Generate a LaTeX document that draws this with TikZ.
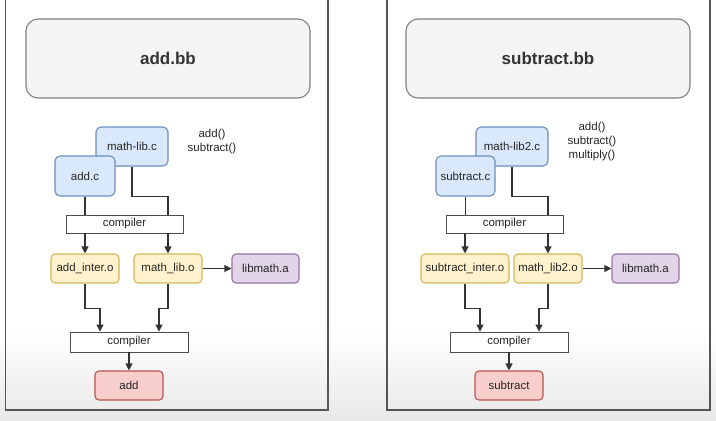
\documentclass[tikz,border=0pt]{standalone}
\usepackage{fontspec}
\setmainfont{Liberation Sans}
\usetikzlibrary{arrows.meta}
\definecolor{srcfill}{HTML}{DAE8FC}
\definecolor{srcline}{HTML}{6C8EBF}
\definecolor{objfill}{HTML}{FFF2CC}
\definecolor{objline}{HTML}{D6B656}
\definecolor{libfill}{HTML}{E1D5E7}
\definecolor{libline}{HTML}{9673A6}
\definecolor{outfill}{HTML}{F8CECC}
\definecolor{outline}{HTML}{B85450}
\definecolor{titlefill}{HTML}{F4F4F4}
\definecolor{frameline}{HTML}{555555}
\definecolor{wire}{HTML}{333333}
\tikzset{
  titlebox/.style={draw=gray,fill=titlefill,rounded corners=12pt,minimum width=284,minimum height=79,
    font=\fontsize{17}{20}\selectfont\bfseries,text=black!80},
  srcbox/.style={draw=srcline,fill=srcfill,rounded corners=5pt,minimum width=72,minimum height=39,inner sep=0pt},
  objbox/.style={draw=objline,fill=objfill,rounded corners=4pt,minimum width=68,minimum height=29,inner sep=0pt},
  libbox/.style={draw=libline,fill=libfill,rounded corners=4pt,minimum width=67,minimum height=29,inner sep=0pt},
  outbox/.style={draw=outline,fill=outfill,rounded corners=4pt,minimum width=68,minimum height=29,inner sep=0pt},
  compbox/.style={draw=black!70,line width=0.9pt,fill=white,minimum width=117,minimum height=18,inner sep=0pt},
  funcs/.style={align=center,font=\fontsize{11.5}{14.5}\selectfont,text=black!85},
  arr/.style={-{Triangle[length=7pt,width=7pt]}},
}
\begin{document}
\begin{tikzpicture}[x=1pt,y=-1pt,font=\fontsize{11.5}{13}\selectfont,text=black!85,line width=1.1pt]
\useasboundingbox (0,0) rectangle (716,421);
\fill[white] (0,0) rectangle (716,421);
\shade[top color=white,bottom color=black!9] (0,330) rectangle (716,421);

% panels
\draw[frameline,line width=1.2pt] (5.5,0) -- (5.5,410) -- (328,410) -- (328,0);
\draw[frameline,line width=1.2pt] (387,0) -- (387,410) -- (710,410) -- (710,0);

% add.bb
\node[titlebox] (addbb) at (168,58.5) {add.bb};
\node[srcbox] (mathlibc) at (132,146.5) {math-lib.c};
\node[srcbox,minimum width=60,minimum height=40] (addc) at (85,176) {add.c};
\node[funcs] (addfuncs) at (212,141.5) {add()\\subtract()};
\node[compbox] (addcomp) at (124.5,224) {compiler};
\node[objbox] (addinter) at (85,268.5) {add\_inter.o};
\node[objbox] (mathlibo) at (168,268.5) {math\_lib.o};
\node[libbox] (addlib) at (265.5,268.5) {libmath.a};
\node[compbox,minimum width=118,minimum height=20] (addcomptwo) at (129,342) {compiler};
\node[outbox] (addout) at (129,385.5) {add};

\draw[wire] (addc.south) -- (addcomp.north -| addc);
\draw[wire] (mathlibc.south) -- (mathlibc.south |- addc.south) -| (addcomp.north -| mathlibo);
\draw[wire,arr] (addcomp.south -| addinter) -- (addinter.north);
\draw[wire,arr] (addcomp.south -| mathlibo) -- (mathlibo.north);
\draw[wire,arr] (mathlibo.east) -- (addlib.west);
\draw[wire,arr] (addinter.south) -- ++(0,25) -| ([xshift=-29pt]addcomptwo.north);
\draw[wire,arr] (mathlibo.south) -- ++(0,25) -| ([xshift=30pt]addcomptwo.north);
\draw[wire,arr] (addcomptwo.south) -- (addout.north);

% subtract.bb
\node[titlebox] (subbb) at (548,58.5) {subtract.bb};
\node[srcbox] (mathlibtwoc) at (512,146.5) {math-lib2.c};
\node[srcbox,minimum width=59,minimum height=40] (subc) at (465.5,176) {subtract.c};
\node[funcs,font=\fontsize{11.5}{14}\selectfont] (subfuncs) at (592,142) {add()\\subtract()\\multiply()};
\node[compbox] (subcomp) at (504.5,224) {compiler};
\node[objbox,minimum width=88] (subinter) at (465,268.5) {subtract\_inter.o};
\node[objbox] (mathlibtwoo) at (548,268.5) {math\_lib2.o};
\node[libbox] (sublib) at (645.5,268.5) {libmath.a};
\node[compbox,minimum width=118,minimum height=20] (subcomptwo) at (509,342) {compiler};
\node[outbox] (subout) at (509,385.5) {subtract};

\draw[wire] (subc.south) -- (subcomp.north -| subc);
\draw[wire] (mathlibtwoc.south) -- (mathlibtwoc.south |- subc.south) -| (subcomp.north -| mathlibtwoo);
\draw[wire,arr] (subcomp.south -| subinter) -- (subinter.north);
\draw[wire,arr] (subcomp.south -| mathlibtwoo) -- (mathlibtwoo.north);
\draw[wire,arr] (mathlibtwoo.east) -- (sublib.west);
\draw[wire,arr] (subinter.south) -- ++(0,25) -| ([xshift=-29pt]subcomptwo.north);
\draw[wire,arr] (mathlibtwoo.south) -- ++(0,25) -| ([xshift=30pt]subcomptwo.north);
\draw[wire,arr] (subcomptwo.south) -- (subout.north);
\end{tikzpicture}
\end{document}
